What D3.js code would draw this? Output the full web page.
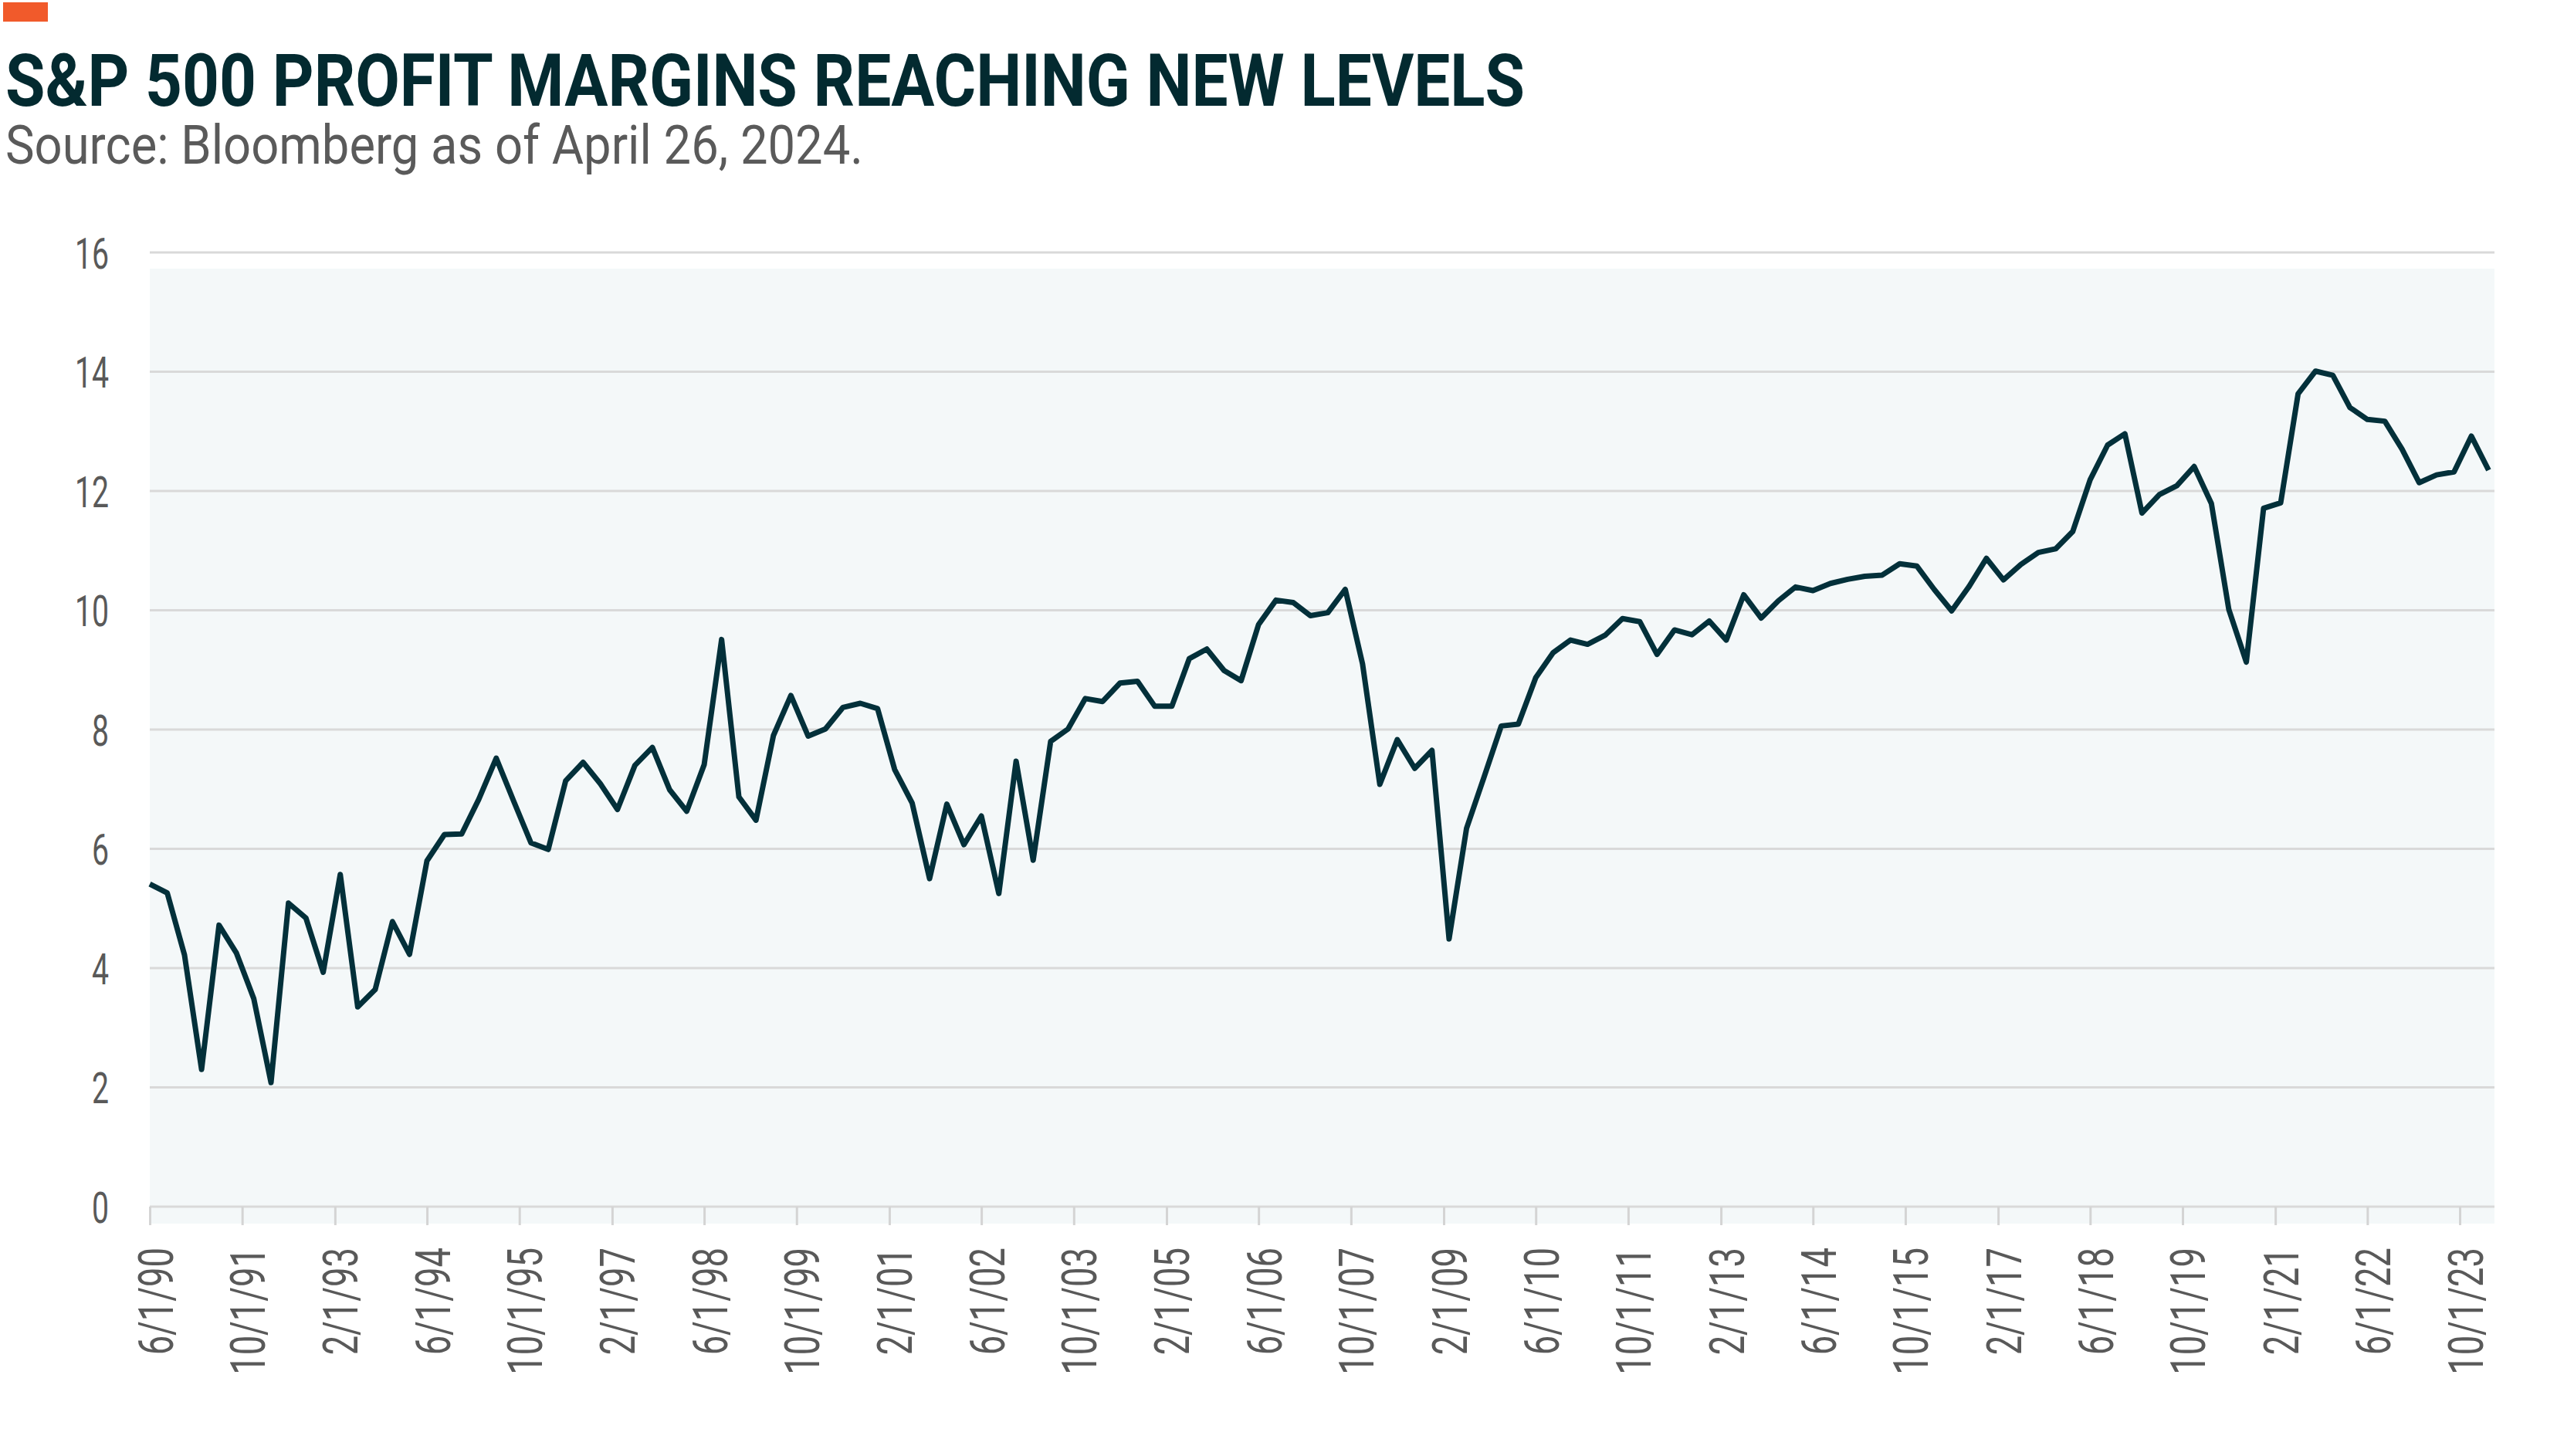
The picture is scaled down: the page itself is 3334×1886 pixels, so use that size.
<!DOCTYPE html>
<meta charset="utf-8">
<title>S&amp;P 500 Profit Margins</title>
<style>

body {
  margin: 0;
  background-color: white;
}

text {
  font-family: Roboto, "Liberation Sans", sans-serif;
}

.axis .domain {
  display: none;
}

.axis line {
  stroke: #d4d4d4;
  stroke-width: 3px;
}

.axis text {
  fill: #595959;
}

</style>
<body>
<script src="https://d3js.org/d3.v7.min.js"></script>
<script>

var title = "S&P 500 PROFIT MARGINS REACHING NEW LEVELS",
    subtitle = "Source: Bloomberg as of April 26, 2024.";

// quarterly observations, first one on 6/1/90
var firstQuarter = "6/1/90",
    axisEnd = "4/1/24";

var margins = [
  5.41, 5.26, 4.22, 2.30, 4.72, 4.25, 3.49, 2.08, 5.09, 4.84,
  3.93, 5.57, 3.35, 3.64, 4.78, 4.23, 5.80, 6.24, 6.25, 6.83,
  7.52, 6.80, 6.10, 5.99, 7.14, 7.45, 7.09, 6.66, 7.40, 7.70,
  6.99, 6.63, 7.41, 9.51, 6.87, 6.48, 7.90, 8.57, 7.89, 8.01,
  8.37, 8.44, 8.35, 7.33, 6.77, 5.50, 6.75, 6.07, 6.55, 5.25,
  7.47, 5.81, 7.80, 8.01, 8.52, 8.47, 8.78, 8.81, 8.39, 8.39,
  9.19, 9.35, 8.99, 8.82, 9.76, 10.17, 10.13, 9.91, 9.96, 10.35,
  9.10, 7.08, 7.83, 7.35, 7.65, 4.49, 6.34, 7.20, 8.06, 8.09,
  8.87, 9.29, 9.50, 9.43, 9.58, 9.86, 9.81, 9.26, 9.67, 9.59,
  9.82, 9.50, 10.26, 9.87, 10.16, 10.39, 10.33, 10.45, 10.52, 10.57,
  10.59, 10.78, 10.74, 10.35, 9.99, 10.40, 10.87, 10.51, 10.77, 10.97,
  11.03, 11.32, 12.19, 12.77, 12.96, 11.63, 11.94, 12.09, 12.41, 11.79,
  10.01, 9.13, 11.71, 11.80, 13.63, 14.01, 13.94, 13.40, 13.20, 13.17,
  12.70, 12.14, 12.27, 12.32, 12.92, 12.35
];

var yTicks = [0, 2, 4, 6, 8, 10, 12, 14, 16];

var xTickLabels = [
  "6/1/90", "10/1/91", "2/1/93", "6/1/94", "10/1/95", "2/1/97", "6/1/98",
  "10/1/99", "2/1/01", "6/1/02", "10/1/03", "2/1/05", "6/1/06", "10/1/07",
  "2/1/09", "6/1/10", "10/1/11", "2/1/13", "6/1/14", "10/1/15", "2/1/17",
  "6/1/18", "10/1/19", "2/1/21", "6/1/22", "10/1/23"
];

var width = 3334,
    height = 1886,
    plotLeft = 194,
    plotRight = 3231,
    plotTop = 327,
    plotBottom = 1563;

var parse = d3.utcParse("%m/%d/%y"),
    label = d3.utcFormat("%-m/%-d/%y"),
    start = parse(firstQuarter);

var data = margins.map(function(v, i) {
  return {date: d3.utcMonth.offset(start, 3 * i), value: v};
});

var x = d3.scaleUtc()
    .domain([start, parse(axisEnd)])
    .range([plotLeft, plotRight]);

var y = d3.scaleLinear()
    .domain([0, 16])
    .range([plotBottom, plotTop]);

var svg = d3.select("body").append("svg")
    .attr("width", width)
    .attr("height", height);

svg.append("rect")
    .attr("x", 4)
    .attr("y", 3)
    .attr("width", 58)
    .attr("height", 25)
    .style("fill", "#f15a2b");

svg.append("text")
    .attr("x", 7)
    .attr("y", 137)
    .attr("textLength", 1968)
    .attr("lengthAdjust", "spacingAndGlyphs")
    .style("font-size", "94px")
    .style("font-weight", 700)
    .style("fill", "#032a30")
    .text(title);

svg.append("text")
    .attr("x", 7)
    .attr("y", 212)
    .attr("textLength", 1111)
    .attr("lengthAdjust", "spacingAndGlyphs")
    .style("font-size", "70px")
    .style("fill", "#5a5a5a")
    .text(subtitle);

// shaded plot panel
svg.append("rect")
    .attr("x", plotLeft)
    .attr("y", plotTop + 21)
    .attr("width", plotRight - plotLeft)
    .attr("height", plotBottom - plotTop + 1)
    .style("fill", "#f4f8f9");

svg.append("g")
  .selectAll("line")
    .data(yTicks)
  .enter().append("line")
    .attr("x1", plotLeft)
    .attr("x2", plotRight)
    .attr("y1", y)
    .attr("y2", y)
    .style("stroke", "#d9d9d9")
    .style("stroke-width", 3);

var yAxis = svg.append("g")
    .attr("class", "axis")
    .attr("transform", "translate(" + plotLeft + ",0)")
    .call(d3.axisLeft(y).tickValues(yTicks).tickSize(0));

yAxis.selectAll("text")
    .attr("x", 0)
    .attr("dy", "0.36em")
    .attr("transform", "translate(-53,0) scale(0.7,1)")
    .style("text-anchor", "end")
    .style("font-size", "56px");

var xAxis = svg.append("g")
    .attr("class", "axis")
    .attr("transform", "translate(0," + plotBottom + ")")
    .call(d3.axisBottom(x)
        .tickValues(xTickLabels.map(parse))
        .tickFormat(label)
        .tickSize(24));

xAxis.selectAll("text")
    .attr("x", 0)
    .attr("y", 0)
    .attr("dy", null)
    .attr("transform", "translate(29,53) rotate(-90) scale(0.72,1)")
    .style("text-anchor", "end")
    .style("font-size", "63px");

var line = d3.line()
    .x(function(d) { return x(d.date); })
    .y(function(d) { return y(d.value); });

svg.append("path")
    .datum(data)
    .attr("d", line)
    .style("fill", "none")
    .style("stroke", "#03303a")
    .style("stroke-width", 7)
    .style("stroke-linejoin", "round");

</script>
